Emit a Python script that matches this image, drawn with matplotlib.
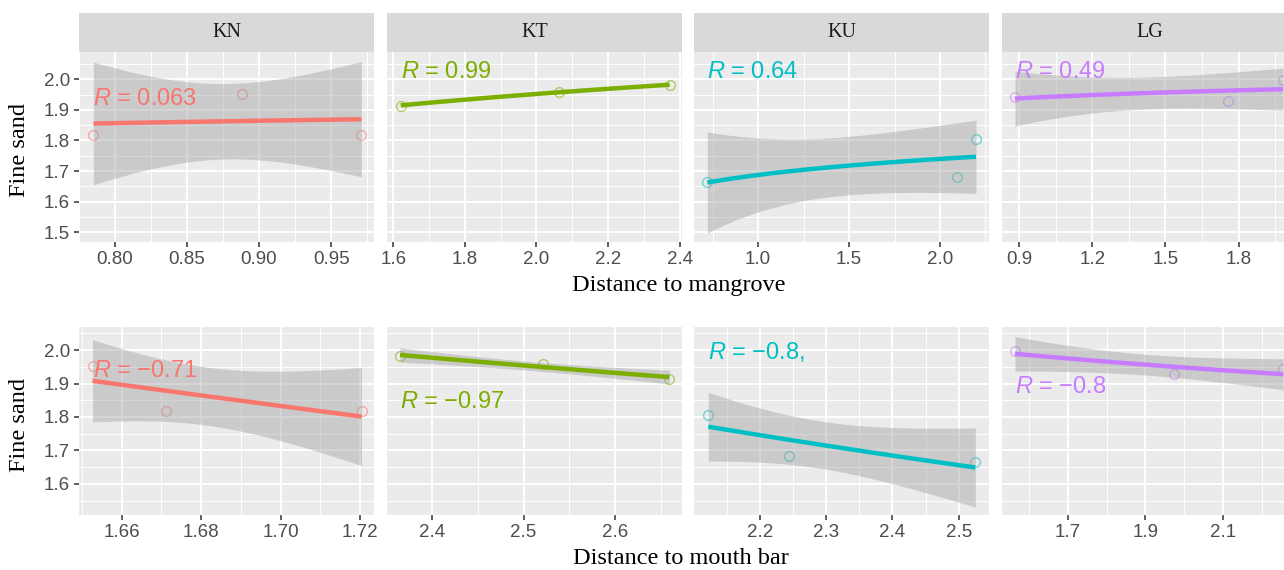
import numpy as np
import matplotlib
matplotlib.use('Agg')
import matplotlib.pyplot as plt
from matplotlib.ticker import FixedLocator, MultipleLocator, FormatStrFormatter

plt.rcParams['font.family'] = ['Liberation Sans', 'DejaVu Sans']
plt.rcParams['mathtext.fontset'] = 'custom'
plt.rcParams['mathtext.it'] = 'Liberation Sans:italic'
plt.rcParams['mathtext.rm'] = 'Liberation Sans'

# ---------------- data ----------------
sites = ['KN', 'KT', 'KU', 'LG']
site_colors = ['#F8766D', '#7CAE00', '#00BFC4', '#C77CFF']

fine_sand_KN = [1.818, 1.952, 1.818]
mangrove_KN = [0.785, 0.888, 0.971]
mouthbar_KN = [1.7204, 1.6527, 1.6711]

fine_sand_KT = [1.914, 1.959, 1.981]
mangrove_KT = [1.6207, 2.0635, 2.372]
mouthbar_KT = [2.6596, 2.5209, 2.3649]

fine_sand_KU = [1.665, 1.682, 1.805]
mangrove_KU = [0.7214, 2.095, 2.198]
mouthbar_KU = [2.5251, 2.2437, 2.1221]

fine_sand_LG = [1.942, 1.928, 1.997]
mangrove_LG = [0.8836, 1.755, 1.982]
mouthbar_LG = [2.255, 1.973, 1.564]

r_labels_mangrove = ['0.063', '0.99', '0.64', '0.49']
r_labels_mouthbar = ['\u22120.71', '\u22120.97', '\u22120.8,', '\u22120.8']

ticks_mangrove = [[0.80, 0.85, 0.90, 0.95], [1.6, 1.8, 2.0, 2.2, 2.4],
                  [1.0, 1.5, 2.0], [0.9, 1.2, 1.5, 1.8]]
ticks_mouthbar = [[1.66, 1.68, 1.70, 1.72], [2.4, 2.5, 2.6],
                  [2.2, 2.3, 2.4, 2.5], [1.7, 1.9, 2.1]]
yticks_top = [1.5, 1.6, 1.7, 1.8, 1.9, 2.0]
yticks_bottom = [1.6, 1.7, 1.8, 1.9, 2.0]

fine_sand = [fine_sand_KN, fine_sand_KT, fine_sand_KU, fine_sand_LG]
mangrove = [mangrove_KN, mangrove_KT, mangrove_KU, mangrove_LG]
mouthbar = [mouthbar_KN, mouthbar_KT, mouthbar_KU, mouthbar_LG]

# ---------------- layout ----------------
W, H = 1284, 570
fig = plt.figure(figsize=(W / 100, H / 100), dpi=100)

panel_x0 = [79, 386.7, 694, 1001.7]
panel_w = 295.3
top_panel = (52, 242)
bot_panel = (327, 515)
strip = (13, 52)

xlim_top = [(0.775, 0.980), (1.5815, 2.4067), (0.648, 2.271), (0.829, 2.0395)]
xlim_bot = [(1.6493, 1.7236), (2.3503, 2.6734), (2.1006, 2.5462), (1.5297, 2.291)]
ylim_top = (1.468, 2.089)
ylim_bot = (1.507, 2.069)
label_y_top = [1.936, 2.025, 2.025, 2.025]
label_y_bot = [1.938, 1.846, 1.995, 1.889]
decimals_top = [2, 1, 1, 1]
decimals_bot = [2, 1, 1, 1]


def fig_rect(x0, y0, y1):
    return [x0 / W, 1 - y1 / H, panel_w / W, (y1 - y0) / H]


def fit_band(x, y):
    x = np.asarray(x, float)
    y = np.asarray(y, float)
    lx = np.log(x)
    b, a = np.polyfit(lx, y, 1)
    resid = y - (a + b * lx)
    n = len(x)
    s = np.sqrt(np.sum(resid ** 2) / (n - 2))
    sxx = np.sum((lx - lx.mean()) ** 2)
    xs = np.linspace(x.min(), x.max(), 120)
    lxs = np.log(xs)
    pred = a + b * lxs
    se = s * np.sqrt(1 / n + (lxs - lx.mean()) ** 2 / sxx)
    return xs, pred, pred - 1.96 * se, pred + 1.96 * se


def draw_panel(ax, x, y, color, xlim, ylim, xt, yt, dec, rlab, ly, show_y):
    ax.set_facecolor('#EBEBEB')
    for sp in ax.spines.values():
        sp.set_visible(False)
    ax.set_xlim(*xlim)
    ax.set_ylim(*ylim)
    xstep = xt[1] - xt[0]
    ax.xaxis.set_major_locator(FixedLocator(xt))
    ax.xaxis.set_minor_locator(MultipleLocator(xstep / 2))
    ax.xaxis.set_major_formatter(FormatStrFormatter('%.' + str(dec) + 'f'))
    ax.yaxis.set_major_locator(FixedLocator(yt))
    ax.yaxis.set_minor_locator(MultipleLocator(0.05))
    ax.yaxis.set_major_formatter(FormatStrFormatter('%.1f'))
    ax.grid(which='major', color='white', lw=1.4)
    ax.grid(which='minor', color='white', lw=0.7)
    ax.set_axisbelow(True)
    ax.tick_params(which='minor', length=0)
    ax.tick_params(which='major', length=3.5, width=1.1, color='#333333',
                   labelcolor='#4D4D4D', labelsize=13.5, pad=3)
    if not show_y:
        ax.tick_params(axis='y', which='major', length=0, labelleft=False)

    ax.plot(x, y, linestyle='none', marker='o', mfc='none', mec=color,
            ms=7, mew=1.0, alpha=0.55, zorder=3)
    xs, pred, lo, hi = fit_band(x, y)
    ax.fill_between(xs, lo, hi, color='#999999', alpha=0.4, lw=0, zorder=4)
    ax.plot(xs, pred, color=color, lw=3.2, solid_capstyle='butt', zorder=5)
    ax.text(min(x), ly, '$R$ = ' + rlab, color=color, fontsize=17,
            family='Liberation Sans', ha='left', va='center', zorder=6)


for i, site in enumerate(sites):
    # strip
    sax = fig.add_axes(fig_rect(panel_x0[i], strip[0], strip[1]))
    sax.set_facecolor('#D9D9D9')
    sax.set_xticks([])
    sax.set_yticks([])
    for sp in sax.spines.values():
        sp.set_visible(False)
    sax.text(0.5, 0.5, site, transform=sax.transAxes, ha='center', va='center',
             fontsize=14.5, family='Liberation Serif', color='#1A1A1A')

    axt = fig.add_axes(fig_rect(panel_x0[i], *top_panel))
    draw_panel(axt, mangrove[i], fine_sand[i], site_colors[i], xlim_top[i], ylim_top,
               ticks_mangrove[i], yticks_top, decimals_top[i], r_labels_mangrove[i],
               label_y_top[i], i == 0)

    axb = fig.add_axes(fig_rect(panel_x0[i], *bot_panel))
    draw_panel(axb, mouthbar[i], fine_sand[i], site_colors[i], xlim_bot[i], ylim_bot,
               ticks_mouthbar[i], yticks_bottom, decimals_bot[i], r_labels_mouthbar[i],
               label_y_bot[i], i == 0)

serif = dict(family='Liberation Serif', fontsize=17.5, color='black')
fig.text(679 / W, 1 - 285 / H, 'Distance to mangrove', ha='center', va='center', **serif)
fig.text(681 / W, 1 - 559 / H, 'Distance to mouth bar', ha='center', va='center', **serif)
fig.text(20 / W, 1 - 150 / H, 'Fine sand', rotation=90, ha='center', va='center', **serif)
fig.text(20 / W, 1 - 425 / H, 'Fine sand', rotation=90, ha='center', va='center', **serif)

fig.savefig('out.png', dpi=100)
